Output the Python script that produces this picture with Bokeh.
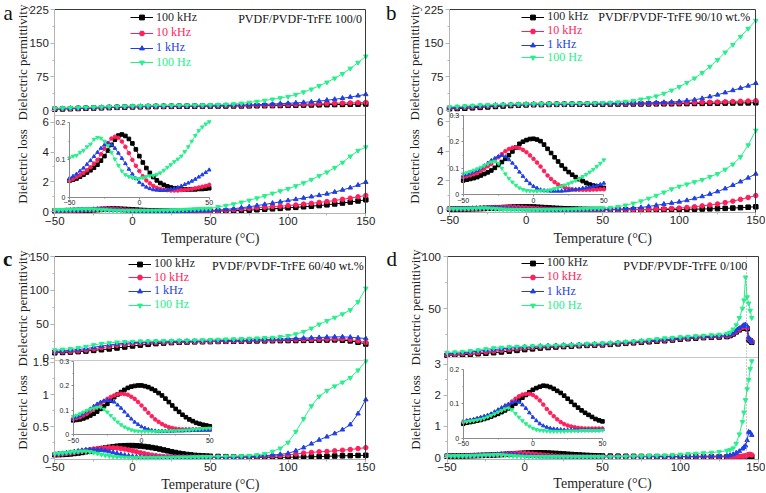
import math
from bokeh.plotting import figure
from bokeh.models import (Range1d, LinearAxis, FixedTicker, Label, Legend,
                          LegendItem, ColumnDataSource)
from bokeh.layouts import row, column
from bokeh.embed import file_html
from bokeh.resources import INLINE

SERIF = "Liberation Serif"
SANS = "Liberation Sans"

FREQS = ["100 kHz", "10 kHz", "1 kHz", "100 Hz"]
COLORS = ["#000000", "#FF1F5B", "#1F3FE6", "#25F08A"]
TEXT_COLORS = ["#2a2a2a", "#FF1F5B", "#1F3FE6", "#25F08A"]
MARKERS = ["square", "circle", "triangle", "inverted_triangle"]

# ---------------- temperature grids (°C) ----------------
T_PERM = [-50, -45, -40, -35, -30, -25, -20, -15, -10, -5,
          0, 5, 10, 15, 20, 25, 30, 35, 40, 45,
          50, 55, 60, 65, 70, 75, 80, 85, 90, 95,
          100, 105, 110, 115, 120, 125, 130, 135, 140, 145,
          150]
T_LOSS = [-50, -47.5, -45, -42.5, -40, -37.5, -35, -32.5, -30, -27.5,
          -25, -22.5, -20, -17.5, -15, -12.5, -10, -7.5, -5, -2.5,
          0, 2.5, 5, 7.5, 10, 12.5, 15, 17.5, 20, 22.5,
          25, 27.5, 30, 32.5, 35, 37.5, 40, 42.5, 45, 47.5,
          50,
          55, 60, 65, 70, 75, 80, 85, 90, 95, 100,
          105, 110, 115, 120, 125, 130, 135, 140, 145, 150]
T_PERM_D = [-50, -45, -40, -35, -30, -25, -20, -15, -10, -5,
            0, 5, 10, 15, 20, 25, 30, 35, 40, 45,
            50, 55, 60, 65, 70, 75, 80, 85, 90, 95,
            100, 105, 110, 115, 120, 125, 130,
            132, 134, 136, 138, 140, 141, 142, 143, 144, 145, 146]
T_LOSS_D = [-50, -47.5, -45, -42.5, -40, -37.5, -35, -32.5, -30, -27.5,
            -25, -22.5, -20, -17.5, -15, -12.5, -10, -7.5, -5, -2.5,
            0, 2.5, 5, 7.5, 10, 12.5, 15, 17.5, 20, 22.5,
            25, 27.5, 30, 32.5, 35, 37.5, 40, 42.5, 45, 47.5,
            50,
            55, 60, 65, 70, 75, 80, 85, 90, 95, 100,
            105, 110, 115, 120, 125, 130,
            132, 134, 136, 138, 140, 141, 142, 143, 144, 145, 146]

# ---------------- panel a: PVDF/PVDF-TrFE 100/0 ----------------
A_PERM_100K = [3, 3.5, 4, 4.5, 5, 5.5, 6, 6.5, 7, 7.5,
               8, 8.3, 8.6, 8.9, 9.1, 9.3, 9.5, 9.6, 9.7, 9.8,
               9.9, 10, 10.1, 10.2, 10.3, 10.4, 10.6, 10.8, 11, 11.2,
               11.5, 11.8, 12.1, 12.4, 12.7, 13, 13.3, 13.6, 13.9, 14.2,
               14.5]
A_PERM_10K = [3.5, 4, 4.5, 5, 5.5, 6, 6.5, 7, 7.5, 8,
              8.5, 8.8, 9.1, 9.4, 9.6, 9.8, 10, 10.1, 10.2, 10.3,
              10.4, 10.5, 10.7, 10.9, 11.1, 11.3, 11.6, 11.9, 12.2, 12.6,
              13, 13.5, 14, 14.5, 15, 15.5, 16, 16.5, 17, 17.5,
              18]
A_PERM_1K = [4, 4.5, 5, 5.5, 6, 6.5, 7, 7.5, 8, 8.5,
             9, 9.3, 9.6, 9.9, 10.1, 10.3, 10.5, 10.6, 10.7, 10.9,
             11, 11.2, 11.5, 11.8, 12.2, 12.6, 13.1, 13.7, 14.4, 15.2,
             16, 17, 18, 19.5, 21, 23, 25, 27.5, 30, 33,
             36]
A_PERM_100 = [5, 5.5, 6, 6.5, 7, 7.5, 8, 8.5, 9, 9.5,
              10, 10.3, 10.6, 10.9, 11.1, 11.3, 11.5, 11.7, 11.9, 12.1,
              12.4, 12.9, 13.5, 14.5, 16, 18, 20, 22.5, 25, 28,
              31, 35.5, 41, 47.5, 55, 63, 72, 82, 94, 107,
              121]
A_LOSS_100K = [0.044, 0.047, 0.05, 0.055, 0.06, 0.066, 0.072, 0.079, 0.087, 0.098,
               0.11, 0.125, 0.14, 0.154, 0.165, 0.168, 0.164, 0.156, 0.144, 0.128,
               0.11, 0.093, 0.078, 0.065, 0.054, 0.045, 0.038, 0.033, 0.029, 0.026,
               0.024, 0.023, 0.022, 0.021, 0.021, 0.021, 0.021, 0.022, 0.022, 0.023,
               0.024,
               0.03, 0.04, 0.05, 0.07, 0.09, 0.12, 0.15, 0.18, 0.21, 0.25,
               0.28, 0.32, 0.36, 0.40, 0.45, 0.51, 0.57, 0.64, 0.71, 0.79]
A_LOSS_10K = [0.044, 0.049, 0.054, 0.059, 0.065, 0.072, 0.08, 0.09, 0.1, 0.115,
              0.13, 0.145, 0.157, 0.162, 0.159, 0.149, 0.135, 0.118, 0.1, 0.084,
              0.07, 0.056, 0.045, 0.037, 0.03, 0.025, 0.022, 0.02, 0.019, 0.018,
              0.018, 0.018, 0.019, 0.02, 0.021, 0.022, 0.024, 0.026, 0.028, 0.03,
              0.033,
              0.05, 0.08, 0.12, 0.17, 0.21, 0.25, 0.29, 0.33, 0.36, 0.40,
              0.44, 0.50, 0.55, 0.61, 0.67, 0.74, 0.82, 0.90, 0.99, 1.08]
A_LOSS_1K = [0.051, 0.056, 0.062, 0.07, 0.078, 0.088, 0.098, 0.109, 0.12, 0.131,
             0.14, 0.144, 0.14, 0.131, 0.118, 0.104, 0.09, 0.075, 0.062, 0.05,
             0.04, 0.033, 0.027, 0.023, 0.02, 0.019, 0.018, 0.018, 0.019, 0.021,
             0.023, 0.026, 0.03, 0.034, 0.038, 0.043, 0.048, 0.054, 0.06, 0.066,
             0.073,
             0.10, 0.14, 0.19, 0.25, 0.32, 0.40, 0.48, 0.56, 0.65, 0.74,
             0.82, 0.91, 1.00, 1.09, 1.19, 1.31, 1.45, 1.60, 1.78, 1.98]
A_LOSS_100 = [0.105, 0.11, 0.112, 0.12, 0.125, 0.135, 0.142, 0.155, 0.16, 0.158,
              0.15, 0.138, 0.12, 0.102, 0.085, 0.07, 0.06, 0.055, 0.052, 0.05,
              0.05, 0.052, 0.055, 0.057, 0.058, 0.061, 0.065, 0.072, 0.08, 0.087,
              0.095, 0.102, 0.11, 0.122, 0.135, 0.15, 0.165, 0.178, 0.188, 0.196,
              0.202,
              0.31, 0.40, 0.50, 0.62, 0.75, 0.90, 1.05, 1.22, 1.38, 1.53,
              1.72, 1.92, 2.15, 2.40, 2.65, 2.95, 3.30, 3.72, 4.10, 4.34]

# ---------------- panel b: 90/10 wt.% ----------------
B_PERM_100K = [4, 4.5, 5, 6, 7, 8, 9, 10, 11, 12,
               12.5, 13, 13.3, 13.5, 13.7, 13.8, 13.9, 14, 14, 14.1,
               14.2, 14.3, 14.4, 14.5, 14.6, 14.7, 14.8, 14.9, 15, 15.1,
               15.3, 15.5, 15.7, 15.9, 16.1, 16.3, 16.5, 16.7, 16.9, 17,
               17.2]
B_PERM_10K = [5, 6, 7, 8, 9, 10, 11, 11.8, 12.5, 13,
              13.5, 13.8, 14, 14.2, 14.4, 14.5, 14.6, 14.7, 14.8, 14.9,
              15, 15.1, 15.2, 15.3, 15.5, 15.7, 15.9, 16.1, 16.4, 16.7,
              17, 17.4, 17.8, 18.2, 18.6, 19, 19.5, 20, 20.6, 21.2,
              22]
B_PERM_1K = [6, 7, 8, 9, 10, 11, 12, 12.5, 13, 13.5,
             14, 14.2, 14.4, 14.6, 14.8, 14.9, 15, 15.1, 15.2, 15.3,
             15.4, 15.6, 15.8, 16, 16.3, 16.6, 17, 17.5, 18.2, 19,
             20, 22, 24, 27, 31, 35, 40, 45, 50, 55,
             61]
B_PERM_100 = [8, 9, 10, 11, 12, 12.5, 13, 13.5, 14, 14.3,
              14.5, 14.7, 15, 15, 15.2, 15.3, 15.5, 15.7, 16, 16.4,
              17, 17.5, 18.5, 20, 22, 25, 28, 32, 38, 45,
              53, 62, 72, 84, 98, 113, 130, 147, 165, 183,
              201]
B_LOSS_100K = [0.054, 0.057, 0.06, 0.063, 0.067, 0.073, 0.079, 0.085, 0.092, 0.102,
               0.113, 0.124, 0.136, 0.15, 0.164, 0.179, 0.193, 0.201, 0.207, 0.211,
               0.212, 0.209, 0.203, 0.19, 0.174, 0.158, 0.142, 0.126, 0.111, 0.098,
               0.086, 0.076, 0.067, 0.059, 0.052, 0.045, 0.039, 0.035, 0.032, 0.029,
               0.026,
               0.024, 0.022, 0.021, 0.021, 0.022, 0.023, 0.025, 0.028, 0.032, 0.038,
               0.045, 0.055, 0.066, 0.08, 0.095, 0.11, 0.13, 0.16, 0.19, 0.22]
B_LOSS_10K = [0.067, 0.07, 0.074, 0.078, 0.082, 0.09, 0.099, 0.108, 0.117, 0.13,
              0.142, 0.154, 0.165, 0.173, 0.178, 0.18, 0.177, 0.17, 0.161, 0.149,
              0.136, 0.122, 0.107, 0.09, 0.073, 0.06, 0.048, 0.039, 0.032, 0.027,
              0.023, 0.021, 0.019, 0.019, 0.019, 0.019, 0.019, 0.02, 0.02, 0.021,
              0.021,
              0.022, 0.024, 0.027, 0.03, 0.035, 0.045, 0.06, 0.08, 0.10, 0.13,
              0.17, 0.22, 0.28, 0.34, 0.41, 0.50, 0.60, 0.72, 0.85, 0.98]
B_LOSS_1K = [0.073, 0.077, 0.082, 0.087, 0.092, 0.101, 0.11, 0.12, 0.13, 0.138,
             0.145, 0.149, 0.144, 0.133, 0.12, 0.104, 0.086, 0.07, 0.054, 0.042,
             0.032, 0.025, 0.019, 0.016, 0.015, 0.014, 0.014, 0.014, 0.014, 0.015,
             0.016, 0.018, 0.02, 0.022, 0.025, 0.027, 0.029, 0.032, 0.035, 0.039,
             0.044,
             0.05, 0.06, 0.08, 0.12, 0.17, 0.24, 0.32, 0.40, 0.47, 0.55,
             0.65, 0.78, 0.92, 1.08, 1.25, 1.45, 1.68, 1.92, 2.18, 2.45]
B_LOSS_100 = [0.079, 0.083, 0.088, 0.093, 0.098, 0.104, 0.11, 0.117, 0.124, 0.127,
              0.119, 0.1, 0.079, 0.062, 0.048, 0.036, 0.026, 0.02, 0.016, 0.015,
              0.014, 0.014, 0.015, 0.015, 0.016, 0.019, 0.023, 0.027, 0.032, 0.037,
              0.042, 0.048, 0.054, 0.061, 0.069, 0.077, 0.086, 0.096, 0.107, 0.119,
              0.132,
              0.16, 0.22, 0.32, 0.45, 0.60, 0.78, 0.98, 1.20, 1.42, 1.60,
              1.75, 1.90, 2.05, 2.25, 2.45, 2.75, 3.10, 3.60, 4.40, 5.40]

# ---------------- panel c: 60/40 wt.% ----------------
C_PERM_100K = [8, 8.5, 9, 9.7, 10.5, 11.5, 12.5, 13.7, 15, 16.5,
               18, 19.3, 20.5, 21.5, 22.3, 23, 23.5, 23.8, 24.1, 24.3,
               24.5, 24.7, 24.9, 25, 25.2, 25.3, 25.5, 25.6, 25.8, 25.9,
               26, 26.1, 26.3, 26.4, 26.6, 26.8, 27, 26.5, 25.5, 23.5,
               21]
C_PERM_10K = [9, 9.5, 10, 11, 12, 13.7, 15.5, 17.3, 19, 20.3,
              21.5, 22.3, 23, 23.3, 23.5, 23.7, 23.9, 24.1, 24.3, 24.4,
              24.5, 24.8, 25, 25.3, 25.5, 25.8, 26, 26.2, 26.5, 26.8,
              27, 27.2, 27.4, 27.6, 27.8, 28.1, 28.4, 28.5, 27.5, 25.5,
              23]
C_PERM_1K = [10, 10.7, 11.5, 12.7, 14, 16, 18, 19.5, 21, 22,
             23, 23.5, 24, 24.3, 24.5, 24.7, 24.9, 25.1, 25.2, 25.4,
             25.5, 25.7, 26, 26.2, 26.5, 26.7, 27, 27.3, 27.7, 28.1,
             28.5, 29, 29.5, 30, 30.5, 31, 31.5, 31.5, 31, 30,
             29]
C_PERM_100 = [12, 13, 14, 15.5, 17, 19.5, 21.5, 22.5, 23.5, 24,
              24.5, 25, 25, 25.3, 25.5, 25.8, 26, 26.2, 26.5, 26.7,
              27, 27.5, 28, 28.2, 28.5, 29, 29.5, 30, 30.5, 31.5,
              33, 35.5, 39, 44, 50, 55, 60, 65, 71, 83,
              103]
C_LOSS_100K = [0.059, 0.061, 0.063, 0.067, 0.072, 0.079, 0.086, 0.095, 0.106, 0.116,
               0.127, 0.14, 0.154, 0.165, 0.175, 0.184, 0.192, 0.197, 0.2, 0.202,
               0.202, 0.199, 0.195, 0.188, 0.181, 0.171, 0.161, 0.148, 0.134, 0.12,
               0.106, 0.094, 0.082, 0.072, 0.063, 0.056, 0.049, 0.045, 0.041, 0.038,
               0.035,
               0.032, 0.029, 0.026, 0.024, 0.022, 0.021, 0.02, 0.02, 0.02, 0.02,
               0.022, 0.024, 0.027, 0.03, 0.035, 0.039, 0.042, 0.045, 0.048, 0.05]
C_LOSS_10K = [0.065, 0.068, 0.072, 0.079, 0.086, 0.096, 0.106, 0.116, 0.127, 0.137,
              0.147, 0.155, 0.161, 0.166, 0.168, 0.167, 0.164, 0.156, 0.147, 0.134,
              0.12, 0.105, 0.09, 0.076, 0.063, 0.053, 0.044, 0.037, 0.031, 0.028,
              0.025, 0.023, 0.022, 0.022, 0.022, 0.022, 0.022, 0.022, 0.022, 0.022,
              0.022,
              0.022, 0.023, 0.024, 0.026, 0.028, 0.031, 0.035, 0.04, 0.045, 0.055,
              0.07, 0.085, 0.095, 0.105, 0.11, 0.12, 0.13, 0.14, 0.155, 0.17]
C_LOSS_1K = [0.068, 0.073, 0.079, 0.087, 0.095, 0.106, 0.117, 0.126, 0.134, 0.139,
             0.141, 0.139, 0.134, 0.122, 0.109, 0.094, 0.079, 0.065, 0.052, 0.042,
             0.033, 0.027, 0.022, 0.018, 0.016, 0.015, 0.015, 0.015, 0.015, 0.015,
             0.016, 0.016, 0.016, 0.017, 0.017, 0.018, 0.018, 0.018, 0.019, 0.019,
             0.019,
             0.02, 0.02, 0.022, 0.025, 0.03, 0.035, 0.045, 0.055, 0.065, 0.08,
             0.12, 0.17, 0.23, 0.29, 0.34, 0.39, 0.45, 0.53, 0.70, 0.92]
C_LOSS_100 = [0.075, 0.08, 0.086, 0.093, 0.1, 0.105, 0.109, 0.112, 0.113, 0.105,
              0.093, 0.079, 0.065, 0.052, 0.041, 0.032, 0.025, 0.02, 0.016, 0.015,
              0.014, 0.014, 0.014, 0.014, 0.014, 0.014, 0.014, 0.015, 0.015, 0.016,
              0.016, 0.017, 0.018, 0.019, 0.019, 0.021, 0.022, 0.023, 0.025, 0.026,
              0.027,
              0.03, 0.033, 0.036, 0.04, 0.045, 0.055, 0.075, 0.11, 0.16, 0.25,
              0.42, 0.62, 0.82, 0.97, 1.06, 1.13, 1.19, 1.26, 1.38, 1.52]

# ---------------- panel d: 0/100 ----------------
D_PERM_100K = [5, 5.2, 5.5, 6, 6.5, 7, 7.5, 8.2, 9, 9.7,
               10.5, 11.2, 12, 12.5, 13, 13.4, 13.8, 14.2, 14.5, 14.8,
               15, 15.5, 16, 16.5, 17, 17.5, 18, 18.5, 19, 19.7,
               20.5, 21, 21.5, 22, 22.3, 22.6, 23,
               24, 25.5, 27.5, 29.5, 31, 31.5, 31.5, 30.5, 20, 19, 17.5]
D_PERM_10K = [5.5, 6, 6.5, 7, 7.5, 8.2, 9, 9.7, 10.5, 11.2,
              12, 12.5, 13, 13.4, 13.8, 14.1, 14.4, 14.7, 15, 15.2,
              15.5, 16, 16.5, 17, 17.5, 18, 18.5, 19, 19.5, 20.2,
              21, 21.5, 22, 22.4, 22.8, 23.1, 23.5,
              24.5, 26, 28, 30, 32, 32.5, 32.5, 31.5, 21, 19.5, 18]
D_PERM_1K = [6.5, 7, 7.5, 8.2, 9, 9.7, 10.5, 11.2, 12, 12.5,
             13, 13.4, 13.8, 14.1, 14.4, 14.7, 15, 15.3, 15.5, 15.8,
             16, 16.5, 17, 17.5, 18, 18.5, 19, 19.5, 20, 20.7,
             21.5, 22, 22.5, 22.9, 23.3, 23.6, 24,
             25, 26.5, 28.5, 31, 33, 34, 34.5, 33, 22, 20, 18]
D_PERM_100 = [7.7, 8, 8.5, 9.2, 10, 11, 12, 12.5, 13, 13.3,
              13.5, 13.8, 14, 14.3, 14.5, 14.8, 15, 15.5, 16, 16.3,
              16.7, 17, 17.5, 18, 18.5, 19.2, 20, 20.7, 21.5, 22,
              22.5, 23, 23.5, 24, 24.5, 25, 26,
              27, 30, 34, 41, 50, 58, 80, 61, 55, 48, 41]
D_LOSS_100K = [0.042, 0.045, 0.047, 0.049, 0.051, 0.053, 0.056, 0.059, 0.063, 0.067,
               0.071, 0.076, 0.081, 0.087, 0.093, 0.101, 0.11, 0.118, 0.126, 0.134,
               0.141, 0.146, 0.15, 0.153, 0.152, 0.149, 0.144, 0.138, 0.132, 0.124,
               0.115, 0.106, 0.097, 0.089, 0.081, 0.074, 0.068, 0.062, 0.056, 0.052,
               0.049,
               0.045, 0.042, 0.039, 0.036, 0.034, 0.032, 0.03, 0.028, 0.026, 0.025,
               0.024, 0.023, 0.022, 0.022, 0.022, 0.022,
               0.022, 0.022, 0.023, 0.024, 0.025, 0.026, 0.027, 0.03, 0.04, 0.035, 0.025]
D_LOSS_10K = [0.047, 0.049, 0.051, 0.053, 0.056, 0.058, 0.061, 0.064, 0.068, 0.073,
              0.078, 0.084, 0.09, 0.098, 0.107, 0.115, 0.122, 0.127, 0.129, 0.129,
              0.126, 0.119, 0.11, 0.098, 0.085, 0.074, 0.064, 0.055, 0.047, 0.041,
              0.037, 0.034, 0.032, 0.03, 0.029, 0.028, 0.028, 0.028, 0.028, 0.028,
              0.028,
              0.028, 0.028, 0.028, 0.028, 0.028, 0.028, 0.028, 0.028, 0.028, 0.029,
              0.029, 0.03, 0.03, 0.031, 0.032, 0.033,
              0.034, 0.035, 0.036, 0.038, 0.04, 0.045, 0.05, 0.07, 0.1, 0.1, 0.08]
D_LOSS_1K = [0.049, 0.051, 0.053, 0.055, 0.058, 0.061, 0.064, 0.067, 0.071, 0.077,
             0.083, 0.089, 0.095, 0.099, 0.103, 0.107, 0.105, 0.097, 0.087, 0.074,
             0.061, 0.051, 0.042, 0.036, 0.032, 0.029, 0.027, 0.026, 0.025, 0.024,
             0.024, 0.024, 0.024, 0.024, 0.024, 0.024, 0.024, 0.024, 0.024, 0.024,
             0.025,
             0.025, 0.025, 0.026, 0.026, 0.027, 0.028, 0.029, 0.03, 0.031, 0.033,
             0.035, 0.038, 0.041, 0.044, 0.047, 0.05,
             0.07, 0.1, 0.15, 0.2, 0.28, 0.33, 0.38, 0.55, 0.82, 0.8, 0.72]
D_LOSS_100 = [0.047, 0.048, 0.05, 0.051, 0.053, 0.055, 0.058, 0.062, 0.066, 0.071,
              0.076, 0.08, 0.085, 0.088, 0.083, 0.072, 0.061, 0.051, 0.042, 0.035,
              0.029, 0.025, 0.023, 0.022, 0.021, 0.02, 0.02, 0.02, 0.02, 0.02,
              0.021, 0.021, 0.021, 0.021, 0.022, 0.022, 0.022, 0.022, 0.022, 0.022,
              0.023,
              0.025, 0.03, 0.035, 0.04, 0.047, 0.055, 0.062, 0.07, 0.085, 0.1,
              0.115, 0.13, 0.145, 0.16, 0.18, 0.22,
              0.25, 0.3, 0.45, 0.75, 1.15, 1.45, 1.85, 2.2, 2.5, 2.85, 3.1]

# geometry of each panel canvas (pixels): plot-box left/right/top/bottom
PANELS = [
    dict(letter="a", bold=False, title="PVDF/PVDF-TrFE 100/0", W=383, H=246,
         PL=54.3, PR=365.3, PT=9.3, PB=213.3, sep=115,
         perm_lim=225, loss_lim=6.47, loss_lo=-0.155,
         perm_ticks=[0, 75, 150, 225], perm_minor=[37.5, 112.5, 187.5],
         loss_ticks=[0, 2, 4, 6], loss_minor=[1, 3, 5], perm_zero_px=110.0,
         inset_fx=(0.0473, 0.4965), inset_fy=(0.0814, 0.4475), inset_ymax=0.2,
         inset_ticks=[0, 0.1, 0.2], inset_minor=[0.05, 0.15],
         title_fx=0.988, title_fy=0.044, leg_fx=0.2434, leg_fy=[0.0475, 0.1225, 0.196, 0.268],
         ylab_x=22, perm_lab_y=62, loss_lab_y=166, letter_pos=(3, 12), xlab_y=237.5, vline=None,
         t_perm=T_PERM, perm=[A_PERM_100K, A_PERM_10K, A_PERM_1K, A_PERM_100],
         t_loss=T_LOSS, loss=[A_LOSS_100K, A_LOSS_10K, A_LOSS_1K, A_LOSS_100]),
    dict(letter="b", bold=False, title="PVDF/PVDF-TrFE 90/10 wt.%", W=382, H=246,
         PL=66.0, PR=372.3, PT=9.3, PB=212.0, sep=115,
         perm_lim=225, loss_lim=6.41, loss_lo=-0.17,
         perm_ticks=[0, 75, 150, 225], perm_minor=[37.5, 112.5, 187.5],
         loss_ticks=[0, 2, 4, 6], loss_minor=[1, 3, 5], perm_zero_px=110.0,
         inset_fx=(0.0447, 0.5038), inset_fy=(0.0873, 0.4785), inset_ymax=0.3,
         inset_ticks=[0, 0.1, 0.2, 0.3], inset_minor=[0.05, 0.15, 0.25],
         title_fx=0.982, title_fy=0.0365, leg_fx=0.236, leg_fy=[0.0444, 0.1135, 0.1815, 0.245],
         ylab_x=31, perm_lab_y=62, loss_lab_y=166, letter_pos=(2.5, 12.5), xlab_y=238, vline=None,
         t_perm=T_PERM, perm=[B_PERM_100K, B_PERM_10K, B_PERM_1K, B_PERM_100],
         t_loss=T_LOSS, loss=[B_LOSS_100K, B_LOSS_10K, B_LOSS_1K, B_LOSS_100]),
    dict(letter="c", bold=True, title="PVDF/PVDF-TrFE 60/40 wt.%", W=383, H=246,
         PL=54.3, PR=365.3, PT=10.0, PB=213.3, sep=113.5,
         perm_lim=150, loss_lim=1.539, loss_lo=-0.02,
         perm_ticks=[0, 50, 100, 150], perm_minor=[25, 75, 125],
         loss_ticks=[0, 0.5, 1.0, 1.5], loss_minor=[0.25, 0.75, 1.25], perm_zero_px=111.7,
         inset_fx=(0.0592, 0.4984), inset_fy=(0.123, 0.4835), inset_ymax=0.3,
         inset_ticks=[0, 0.1, 0.2, 0.3], inset_minor=[0.05, 0.15, 0.25],
         title_fx=0.9936, title_fy=0.049, leg_fx=0.237, leg_fy=[0.0443, 0.1117, 0.1785, 0.246],
         ylab_x=22, perm_lab_y=62, loss_lab_y=166, letter_pos=(2.5, 12.5), xlab_y=238, vline=None,
         t_perm=T_PERM, perm=[C_PERM_100K, C_PERM_10K, C_PERM_1K, C_PERM_100],
         t_loss=T_LOSS, loss=[C_LOSS_100K, C_LOSS_10K, C_LOSS_1K, C_LOSS_100]),
    dict(letter="d", bold=False, title="PVDF/PVDF-TrFE 0/100", W=382, H=246,
         PL=63.5, PR=374.5, PT=10.0, PB=213.0, sep=111,
         perm_lim=100, loss_lim=3.215, loss_lo=-0.064,
         perm_ticks=[50, 100], perm_minor=[25, 75],
         loss_ticks=[0, 1, 2, 3], loss_minor=[0.5, 1.5, 2.5], perm_zero_px=114.0,
         inset_fx=(0.0522, 0.4998), inset_fy=(0.105, 0.443), inset_ymax=0.2,
         inset_ticks=[0, 0.1, 0.2], inset_minor=[0.05, 0.15],
         title_fx=0.9655, title_fy=0.049, leg_fx=0.239, leg_fy=[0.040, 0.110, 0.180, 0.250],
         ylab_x=32, perm_lab_y=61, loss_lab_y=166, letter_pos=(3, 12.5), xlab_y=237, vline=142.3,
         t_perm=T_PERM_D, perm=[D_PERM_100K, D_PERM_10K, D_PERM_1K, D_PERM_100],
         t_loss=T_LOSS_D, loss=[D_LOSS_100K, D_LOSS_10K, D_LOSS_1K, D_LOSS_100]),
]


def lin_range(v0, d0, v1, d1, lo, hi):
    s = (v1 - v0) / (d1 - d0)
    return Range1d(v0 + (lo - d0) * s, v0 + (hi - d0) * s)


def style_axis(ax, fs, col="#b4b4b4"):
    ax.axis_line_color = col
    ax.major_tick_line_color = col
    ax.minor_tick_line_color = col
    ax.major_label_text_font = SANS
    ax.major_label_text_font_size = fs
    ax.major_label_text_color = "#1e1e1e"


def plain_line_axis(p, side, loc, bounds, color, dash="solid", **names):
    ax = LinearAxis(fixed_location=loc, bounds=bounds, ticker=FixedTicker(ticks=[]), **names)
    ax.axis_line_color = color
    ax.axis_line_dash = dash
    ax.major_tick_line_color = None
    ax.minor_tick_line_color = None
    ax.major_label_text_font_size = "1px"
    p.add_layout(ax, side)


def build(cfg):
    W, H = cfg["W"], cfg["H"]
    PL, PR, PT, PB = cfg["PL"], cfg["PR"], cfg["PT"], cfg["PB"]
    FW = PR - PL
    FH = PB - PT
    k = 200.0 / FW
    xlo, xhi = -50 - PL * k, -50 + (W - PL) * k
    ylo, yhi = -(H - PB) / FH, 1 + PT / FH
    p = figure(width=W, height=H, x_range=Range1d(xlo, xhi), y_range=Range1d(ylo, yhi),
               x_axis_type=None, y_axis_type=None, output_backend="svg",
               toolbar_location=None, min_border=0, min_border_left=0, min_border_right=0,
               min_border_top=0, min_border_bottom=0)
    p.outline_line_color = None
    p.background_fill_color = "white"
    p.border_fill_color = "white"

    ft = (cfg["sep"] - PT) / FH            # fraction of plot box used by permittivity
    d_sep = 1 - ft
    d_zero = 1 - (cfg["perm_zero_px"] - PT) / FH
    perm_rng = lin_range(0.0, d_zero, cfg["perm_lim"], 1.0, ylo, yhi)
    loss_rng = lin_range(cfg["loss_lo"], 0.0, cfg["loss_lim"], d_sep, ylo, yhi)
    fx0, fx1 = cfg["inset_fx"]
    fy0, fy1 = cfg["inset_fy"]
    iym = cfg["inset_ymax"]
    iy_rng = lin_range(0.0, fy0, iym, fy1, ylo, yhi)
    ix_rng = lin_range(-50.0, -50 + fx0 * 200, 50.0, -50 + fx1 * 200, xlo, xhi)
    p.extra_y_ranges = {"perm": perm_rng, "loss": loss_rng, "iy": iy_rng}
    p.extra_x_ranges = {"ix": ix_rng}
    s_perm = cfg["perm_lim"] / (1.0 - d_zero)
    perm_at_sep = (d_sep - d_zero) * s_perm

    # box borders: top & right dark, separator light
    plain_line_axis(p, "above", 1.0, (-50, 150), "#3a3a3a")
    plain_line_axis(p, "right", 150.0, (0, 1), "#3a3a3a")
    plain_line_axis(p, "above", d_sep, (-50, 150), "#c8c8c8")
    if cfg["vline"] is not None:
        plain_line_axis(p, "right", cfg["vline"], (0, 1), "#9a9a9a", dash="1 2")

    # main x axis
    xa = LinearAxis(fixed_location=0.0, bounds=(-50, 150),
                    ticker=FixedTicker(ticks=[-50, 0, 50, 100, 150],
                                       minor_ticks=[-25, 25, 75, 125]))
    style_axis(xa, "11.5px")
    xa.major_tick_out = 3
    xa.major_tick_in = 0
    xa.minor_tick_out = 2
    xa.minor_tick_in = 0
    xa.major_label_standoff = 0
    p.add_layout(xa, "below")

    # main y axes
    for rng, lim, tk, mn in (("perm", (perm_at_sep, cfg["perm_lim"]), cfg["perm_ticks"], cfg["perm_minor"]),
                             ("loss", (cfg["loss_lo"], cfg["loss_lim"]), cfg["loss_ticks"], cfg["loss_minor"])):
        ya = LinearAxis(y_range_name=rng, fixed_location=-50, bounds=lim,
                        ticker=FixedTicker(ticks=tk, minor_ticks=mn))
        style_axis(ya, "11.5px")
        ya.major_tick_out = 4
        ya.major_tick_in = 0
        ya.minor_tick_out = 2
        ya.minor_tick_in = 0
        ya.major_label_standoff = 2
        p.add_layout(ya, "left")

    # inset axes
    ixa = LinearAxis(x_range_name="ix", y_range_name="iy", fixed_location=0, bounds=(-50, 50),
                     ticker=FixedTicker(ticks=[-50, 0, 50], minor_ticks=[-25, 25]))
    style_axis(ixa, "7px", "#8a8a8a")
    ixa.major_tick_out = 2
    ixa.major_tick_in = 0
    ixa.minor_tick_out = 1
    ixa.minor_tick_in = 0
    ixa.major_label_standoff = 1
    p.add_layout(ixa, "below")
    iya = LinearAxis(x_range_name="ix", y_range_name="iy", fixed_location=-50, bounds=(0, iym),
                     ticker=FixedTicker(ticks=cfg["inset_ticks"], minor_ticks=cfg["inset_minor"]))
    style_axis(iya, "7px", "#8a8a8a")
    iya.major_tick_out = 2
    iya.major_tick_in = 0
    iya.minor_tick_out = 1
    iya.minor_tick_in = 0
    iya.major_label_standoff = 2
    p.add_layout(iya, "left")

    # data
    n_in = sum(1 for t in cfg["t_loss"] if t <= 50)
    rends = []
    for i in range(4):
        if len(cfg["perm"][i]) != len(cfg["t_perm"]) or len(cfg["loss"][i]) != len(cfg["t_loss"]):
            raise ValueError("length mismatch in panel %s series %d" % (cfg["letter"], i))
        c = COLORS[i]
        sp = ColumnDataSource(dict(x=cfg["t_perm"], y=cfg["perm"][i]))
        sl = ColumnDataSource(dict(x=cfg["t_loss"], y=cfg["loss"][i]))
        si = ColumnDataSource(dict(x=cfg["t_loss"][:n_in], y=cfg["loss"][i][:n_in]))
        l1 = p.line("x", "y", source=sp, y_range_name="perm", line_color=c, line_width=1)
        m1 = p.scatter("x", "y", source=sp, y_range_name="perm", marker=MARKERS[i], size=4.5,
                       line_color=c, fill_color=c)
        p.line("x", "y", source=sl, y_range_name="loss", line_color=c, line_width=1)
        p.scatter("x", "y", source=sl, y_range_name="loss", marker=MARKERS[i], size=4.5,
                  line_color=c, fill_color=c)
        p.line("x", "y", source=si, x_range_name="ix", y_range_name="iy", line_color=c,
               line_width=0.8)
        p.scatter("x", "y", source=si, x_range_name="ix", y_range_name="iy", marker=MARKERS[i],
                  size=3.6, line_color=c, fill_color=c)
        rends.append([l1, m1])

    # legends (one per series so each label keeps its colour)
    for i in range(4):
        yc = PT + cfg["leg_fy"][i] * FH
        leg = Legend(items=[LegendItem(label=FREQS[i], renderers=rends[i])],
                     location=(PL + cfg["leg_fx"] * FW, H - yc - 6),
                     border_line_color=None, background_fill_alpha=0,
                     padding=0, margin=0, spacing=0, glyph_width=23, glyph_height=12,
                     label_height=12, label_width=10, label_standoff=3,
                     label_text_font=SERIF, label_text_font_size="12px",
                     label_text_color=TEXT_COLORS[i], label_text_baseline="middle")
        p.add_layout(leg)

    def to_d(cx, cy):
        return -50 + (cx - PL) * k, 1 - (cy - PT) / FH

    # title inside box
    p.add_layout(Label(x=-50 + cfg["title_fx"] * 200, y=1 - cfg["title_fy"], text=cfg["title"],
                       text_font=SERIF, text_font_size="12px", text_color="#111111",
                       text_align="right", text_baseline="middle"))
    # axis titles
    px_, py_ = to_d(cfg["ylab_x"], cfg["perm_lab_y"])
    p.add_layout(Label(x=px_, y=py_, text="Dielectric permittivity", angle=math.pi / 2,
                       text_font=SERIF, text_font_size="13px", text_color="#1e1e1e",
                       text_align="center", text_baseline="middle"))
    qx_, qy_ = to_d(cfg["ylab_x"], cfg["loss_lab_y"])
    p.add_layout(Label(x=qx_, y=qy_, text="Dielectric loss", angle=math.pi / 2,
                       text_font=SERIF, text_font_size="13px", text_color="#1e1e1e",
                       text_align="center", text_baseline="middle"))
    lx, ly = to_d(PL + FW / 2, cfg["xlab_y"])
    p.add_layout(Label(x=lx, y=ly, text="Temperature (°C)", text_font=SERIF,
                       text_font_size="14px", text_color="#1e1e1e",
                       text_align="center", text_baseline="middle"))
    # panel letter
    cx, cy = cfg["letter_pos"]
    gx, gy = to_d(cx, cy)
    p.add_layout(Label(x=gx, y=gy, text=cfg["letter"],
                       text_font=SERIF, text_font_size="21px", text_color="#111111",
                       text_font_style="bold" if cfg["bold"] else "normal",
                       text_align="left", text_baseline="middle"))
    return p


figs = [build(c) for c in PANELS]
layout = column(row(figs[0], figs[1]), row(figs[2], figs[3]))
open("out.html", "w").write(file_html(layout, INLINE))
